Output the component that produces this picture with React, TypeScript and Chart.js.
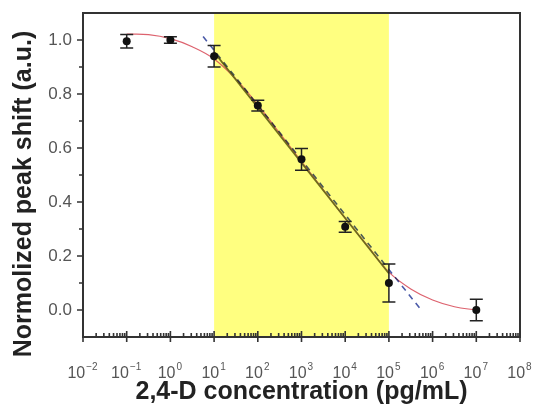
import { useEffect, useRef } from "react";
import { Chart, registerables } from "chart.js";

Chart.register(...registerables);

// ---- data ----
const concentrations = [1e-1, 1e0, 1e1, 1e2, 1e3, 1e4, 1e5, 1e7];
const peakShift = [0.995, 1.0, 0.94, 0.757, 0.558, 0.308, 0.1, 0.0];
const peakError = [0.025, 0.012, 0.04, 0.02, 0.04, 0.02, 0.07, 0.04];

const fitX = [0.1, 0.316, 1, 3.16, 10, 31.6, 100, 316, 1000, 3162, 1e4, 31623, 1e5, 316228, 1e6, 3162278, 1e7];
const fitY = [1.022, 1.02, 1.005, 0.975, 0.93, 0.855, 0.76, 0.655, 0.55, 0.445, 0.34, 0.24, 0.14, 0.078, 0.037, 0.012, 0.0];

const linearX = [10, 1e5];
const linearY = [0.955, 0.135];

const dashedX = [5.6, 5e5];
const dashedY = [1.013, 0.008];

const linearRange = [10, 1e5];

const xTickExponents = [-2, -1, 0, 1, 2, 3, 4, 5, 6, 7, 8];
const yTickValues = [0, 0.2, 0.4, 0.6, 0.8, 1.0];
const yMinorValues = [0.1, 0.3, 0.5, 0.7, 0.9];

const xTitle = "2,4-D concentration (pg/mL)";
const yTitle = "Normolized peak shift (a.u.)";

const FONT = "'Liberation Sans', Arial, sans-serif";
const AXIS = "#333333";
const TICK_TEXT = "#555555";

const decorPlugin = {
  id: "decor",
  beforeDatasetsDraw(chart: any) {
    const { ctx, chartArea, scales } = chart;
    const x0 = scales.x.getPixelForValue(linearRange[0]);
    const x1 = scales.x.getPixelForValue(linearRange[1]);
    ctx.save();
    ctx.fillStyle = "#ffff80";
    ctx.fillRect(x0, chartArea.top, x1 - x0, chartArea.bottom - chartArea.top);
    ctx.restore();
  },
  beforeDatasetDraw(chart: any, args: any) {
    const ctx = chart.ctx;
    if (args.index === 2) {
      ctx.save();
      ctx.globalCompositeOperation = "multiply";
    }
    if (args.index === 3) {
      const { x, y } = chart.scales;
      ctx.save();
      ctx.strokeStyle = "#222222";
      ctx.lineWidth = 1.5;
      concentrations.forEach((c, i) => {
        const px = x.getPixelForValue(c);
        const top = y.getPixelForValue(peakShift[i] + peakError[i]);
        const bot = y.getPixelForValue(peakShift[i] - peakError[i]);
        ctx.beginPath();
        ctx.moveTo(px, top);
        ctx.lineTo(px, bot);
        ctx.moveTo(px - 6.5, top);
        ctx.lineTo(px + 6.5, top);
        ctx.moveTo(px - 6.5, bot);
        ctx.lineTo(px + 6.5, bot);
        ctx.stroke();
      });
      ctx.restore();
    }
  },
  afterDatasetDraw(chart: any, args: any) {
    if (args.index === 2) chart.ctx.restore();
  },
  afterDatasetsDraw(chart: any) {
    const { ctx, chartArea, scales } = chart;
    const { x, y } = scales;
    const { left, right, top, bottom } = chartArea;
    ctx.save();
    // frame
    ctx.strokeStyle = AXIS;
    ctx.lineWidth = 2;
    ctx.strokeRect(left, top, right - left, bottom - top);

    // y ticks (outward)
    ctx.lineWidth = 1.6;
    ctx.beginPath();
    yTickValues.forEach((v) => {
      const py = y.getPixelForValue(v);
      ctx.moveTo(left - 6, py);
      ctx.lineTo(left, py);
    });
    yMinorValues.forEach((v) => {
      const py = y.getPixelForValue(v);
      ctx.moveTo(left - 4, py);
      ctx.lineTo(left, py);
    });
    ctx.stroke();

    // x ticks
    ctx.beginPath();
    xTickExponents.forEach((e) => {
      const px = x.getPixelForValue(Math.pow(10, e));
      ctx.moveTo(px, bottom - 6);
      ctx.lineTo(px, bottom + 5);
      if (e < 8) {
        for (let m = 2; m <= 9; m++) {
          const mx = x.getPixelForValue(m * Math.pow(10, e));
          ctx.moveTo(mx, bottom - 4);
          ctx.lineTo(mx, bottom);
        }
      }
    });
    ctx.stroke();

    // x tick labels: 10 with superscript exponent
    ctx.fillStyle = TICK_TEXT;
    ctx.textBaseline = "alphabetic";
    ctx.textAlign = "left";
    xTickExponents.forEach((e) => {
      const px = x.getPixelForValue(Math.pow(10, e));
      ctx.font = `16px ${FONT}`;
      const base = "10";
      const wb = ctx.measureText(base).width;
      ctx.font = `10px ${FONT}`;
      const exp = String(e).replace("-", "\u2212");
      const we = ctx.measureText(exp).width;
      const start = px - (wb + we) / 2 - 1;
      ctx.font = `16px ${FONT}`;
      ctx.fillText(base, start, 378);
      ctx.font = `10px ${FONT}`;
      ctx.fillText(exp, start + wb + 1, 370);
    });

    // axis titles
    ctx.fillStyle = "#222222";
    ctx.font = `bold 25px ${FONT}`;
    ctx.textAlign = "center";
    ctx.fillText(xTitle, (left + right) / 2, 399);

    ctx.translate(31, 194);
    ctx.rotate(-Math.PI / 2);
    ctx.fillText(yTitle, 0, 0);
    ctx.restore();
  },
};

export default function App() {
  const canvasRef = useRef<HTMLCanvasElement | null>(null);

  useEffect(() => {
    if (!canvasRef.current) return;
    Chart.defaults.font.family = FONT;
    const chart = new Chart(canvasRef.current, {
      type: "scatter",
      data: {
        datasets: [
          {
            type: "line",
            order: 4,
            data: fitX.map((v, i) => ({ x: v, y: fitY[i] })),
            borderColor: "rgba(215,70,85,0.85)",
            borderWidth: 1.2,
            pointRadius: 0,
            tension: 0.4,
            fill: false,
          },
          {
            type: "line",
            order: 3,
            data: linearX.map((v, i) => ({ x: v, y: linearY[i] })),
            borderColor: "#6f6a1c",
            borderWidth: 1.7,
            pointRadius: 0,
            fill: false,
          },
          {
            type: "line",
            order: 2,
            data: dashedX.map((v, i) => ({ x: v, y: dashedY[i] })),
            borderColor: "#4a5aa8",
            borderWidth: 1.6,
            borderDash: [6, 5],
            pointRadius: 0,
            fill: false,
          },
          {
            type: "scatter",
            order: 1,
            data: concentrations.map((v, i) => ({ x: v, y: peakShift[i] })),
            pointRadius: 4,
            pointBackgroundColor: "#111111",
            pointBorderWidth: 0,
            borderColor: "#111111",
          },
        ],
      },
      options: {
        responsive: false,
        animation: false,
        devicePixelRatio: 1,
        layout: { padding: { top: 13, right: 13, left: 0, bottom: 0 } },
        plugins: { legend: { display: false }, tooltip: { enabled: false } },
        scales: {
          x: {
            type: "logarithmic",
            min: 0.01,
            max: 1e8,
            grid: { display: false, drawTicks: false },
            border: { display: false },
            ticks: { display: false },
            afterFit: (s: any) => {
              s.height = 69;
              s.paddingLeft = 0;
              s.paddingRight = 0;
            },
          },
          y: {
            type: "linear",
            min: -0.1,
            max: 1.1,
            grid: { display: false, drawTicks: false },
            border: { display: false },
            afterBuildTicks: (s: any) => {
              s.ticks = yTickValues.map((v) => ({ value: v }));
            },
            ticks: {
              color: TICK_TEXT,
              font: { size: 17, family: FONT },
              padding: 11,
              callback: (v: any) => Number(v).toFixed(1),
            },
            afterFit: (s: any) => {
              s.width = 83;
              s.paddingTop = 0;
              s.paddingBottom = 0;
            },
          },
        },
      },
      plugins: [decorPlugin],
    });
    return () => chart.destroy();
  }, []);

  return (
    <div style={{ position: "absolute", left: 0, top: 0, width: 533, height: 406, background: "#fff" }}>
      <canvas ref={canvasRef} width={533} height={406} style={{ display: "block", width: 533, height: 406 }} />
    </div>
  );
}
